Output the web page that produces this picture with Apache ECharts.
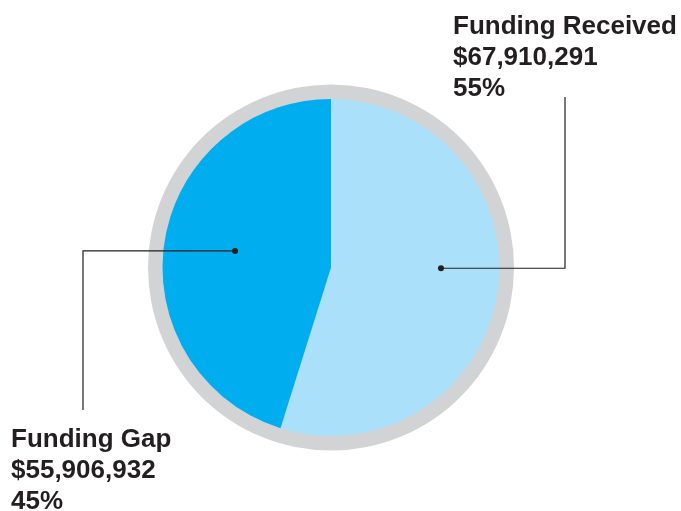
<!DOCTYPE html>
<html>
<head>
<meta charset="utf-8">
<script src="https://cdn.jsdelivr.net/npm/echarts@6/dist/echarts.min.js"></script>
<style>html,body{margin:0;padding:0;background:#fff;}#c{width:681px;height:511px;}</style>
</head>
<body>
<div id="c"></div>
<script>
const categories = ['Funding Received', 'Funding Gap'];
const values = [67910291, 55906932];
const percentLabels = ['55%', '45%'];
const sliceColors = ['#aae0f9', '#00aeef'];

const CX = 331, CY = 267.5, R = 168.5, RING = 183;
// annotation anchors (angle from 12 o'clock clockwise, distance) and label boxes
const anchorSpec = [ { ang: 90.4, dist: 110 }, { ang: 279.8, dist: 97.4 } ];
const elbow = [ { x: 565, yEnd: 97 }, { x: 83, yEnd: 410 } ];
const labelBox = [ { x: 453, y: 11 }, { x: 11, y: 424 } ];

function anchor(i) {
  const a = anchorSpec[i].ang * Math.PI / 180;
  return [CX + anchorSpec[i].dist * Math.sin(a), CY - anchorSpec[i].dist * Math.cos(a)];
}
function fmt(v) { return '$' + v.toLocaleString('en-US'); }

const chart = echarts.init(document.getElementById('c'), null, { renderer: 'canvas' });
const textColor = '#231f20';

const graphics = [];
categories.forEach((c, i) => {
  const a = anchor(i);
  graphics.push({
    type: 'polyline', z: 100,
    shape: { points: [a, [elbow[i].x, a[1]], [elbow[i].x, elbow[i].yEnd]] },
    style: { stroke: textColor, lineWidth: 1.2, fill: null }
  });
  graphics.push({ type: 'circle', z: 101, shape: { cx: a[0], cy: a[1], r: 3 }, style: { fill: textColor } });
});

chart.setOption({
  animation: false,
  backgroundColor: '#ffffff',
  series: [
    {
      type: 'pie', silent: true, center: [CX, CY], radius: [0, RING],
      data: [{ value: 1, name: 'ring' }],
      itemStyle: { color: '#d1d3d4' },
      label: { show: false }, labelLine: { show: false }
    },
    {
      type: 'pie', silent: true, center: [CX, CY], radius: [0, R],
      startAngle: 90, clockwise: true, avoidLabelOverlap: false,
      data: categories.map((c, i) => ({ name: c, value: values[i], itemStyle: { color: sliceColors[i] } })),
      label: {
        show: true, position: 'outside',
        formatter: p => [p.name, fmt(values[p.dataIndex]), percentLabels[p.dataIndex]].join('\n'),
        fontFamily: 'Liberation Sans, Arial, sans-serif', fontWeight: 'bold', fontSize: 26,
        lineHeight: 31, color: textColor, align: 'left'
      },
      labelLine: { show: false },
      labelLayout: function (p) {
        const i = p.dataIndex;
        return { x: labelBox[i].x, y: labelBox[i].y, align: 'left', verticalAlign: 'top' };
      }
    }
  ],
  graphic: graphics
});
</script>
</body>
</html>
